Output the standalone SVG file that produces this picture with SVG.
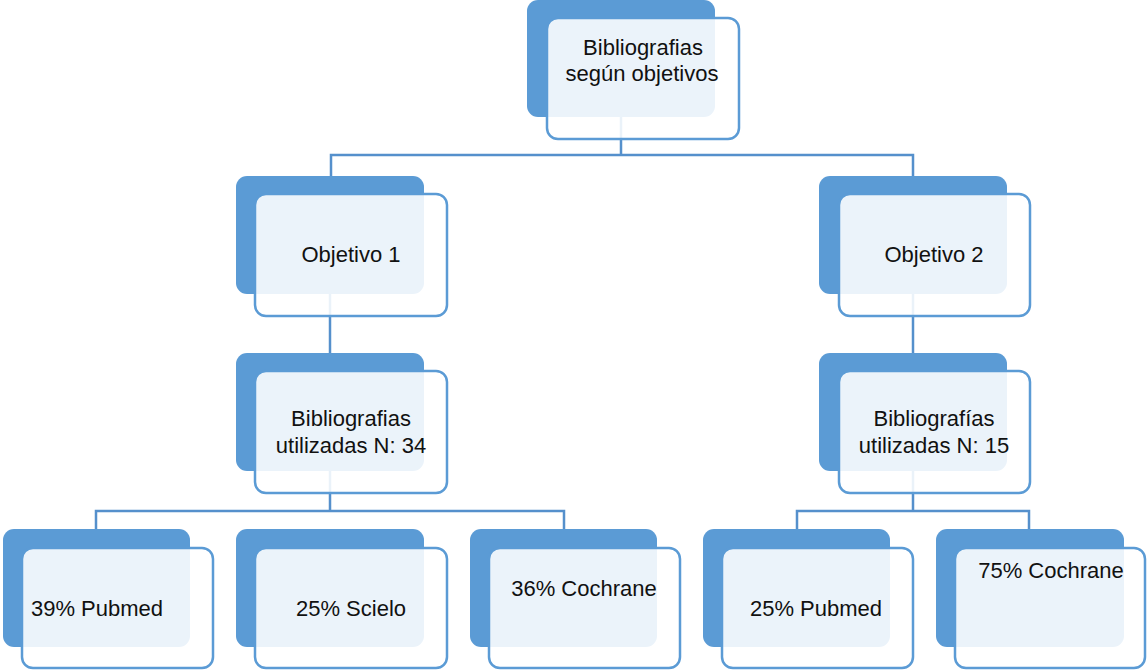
<svg xmlns="http://www.w3.org/2000/svg" width="1147" height="670" viewBox="0 0 1147 670">
<style>
.back{fill:#5B9BD5;}
.front{fill:#fff;fill-opacity:0.88;stroke:#5B9BD5;stroke-width:2.5;}
.conn{fill:none;stroke:#5590CC;stroke-width:2.5;}
text{font-family:"Liberation Sans",Arial,sans-serif;font-size:22px;fill:#111;text-anchor:middle;}
</style>
<rect width="1147" height="670" fill="#fff"/>
<g id="connectors">
<path class="conn" d="M621,117 V155 M331,177 V155 H913 V177"/>
<path class="conn" d="M330,294 V353"/>
<path class="conn" d="M913,294 V353"/>
<path class="conn" d="M330,471 V511 M96,529 V511 H564 V529"/>
<path class="conn" d="M913,471 V511 M797,529 V511 H1029 V529"/>
</g>
<g id="root">
<rect class="back" x="527" y="0" width="188" height="117" rx="11"/>
<rect class="front" x="547" y="18" width="192" height="121" rx="11"/>
<text x="643" y="55">Bibliografias</text>
<text x="642" y="81">según objetivos</text>
</g>
<g id="obj1">
<rect class="back" x="236" y="176" width="188" height="118" rx="11"/>
<rect class="front" x="255" y="194" width="192" height="122" rx="11"/>
<text x="351" y="262">Objetivo 1</text>
</g>
<g id="obj2">
<rect class="back" x="819" y="176" width="188" height="118" rx="11"/>
<rect class="front" x="839" y="194" width="191" height="122" rx="11"/>
<text x="934" y="262">Objetivo 2</text>
</g>
<g id="bib1">
<rect class="back" x="236" y="353" width="188" height="118" rx="11"/>
<rect class="front" x="255" y="371" width="192" height="122" rx="11"/>
<text x="351" y="426">Bibliografias</text>
<text x="351" y="453">utilizadas N: 34</text>
</g>
<g id="bib2">
<rect class="back" x="819" y="353" width="188" height="118" rx="11"/>
<rect class="front" x="839" y="371" width="191" height="122" rx="11"/>
<text x="934" y="426">Bibliografías</text>
<text x="934" y="453">utilizadas N: 15</text>
</g>
<g id="pubmed1">
<rect class="back" x="3" y="529" width="187" height="118" rx="11"/>
<rect class="front" x="22" y="548" width="191" height="120" rx="11"/>
<text x="97" y="616">39% Pubmed</text>
</g>
<g id="scielo1">
<rect class="back" x="236" y="529" width="188" height="118" rx="11"/>
<rect class="front" x="255" y="548" width="192" height="120" rx="11"/>
<text x="351" y="616">25% Scielo</text>
</g>
<g id="cochrane1">
<rect class="back" x="470" y="529" width="187" height="118" rx="11"/>
<rect class="front" x="489" y="548" width="191" height="120" rx="11"/>
<text x="584" y="596">36% Cochrane</text>
</g>
<g id="pubmed2">
<rect class="back" x="703" y="529" width="187" height="118" rx="11"/>
<rect class="front" x="722" y="548" width="191" height="120" rx="11"/>
<text x="816" y="616">25% Pubmed</text>
</g>
<g id="cochrane2">
<rect class="back" x="936" y="529" width="188" height="118" rx="11"/>
<rect class="front" x="955" y="548" width="190" height="120" rx="11"/>
<text x="1051" y="578">75% Cochrane</text>
</g>
</svg>
